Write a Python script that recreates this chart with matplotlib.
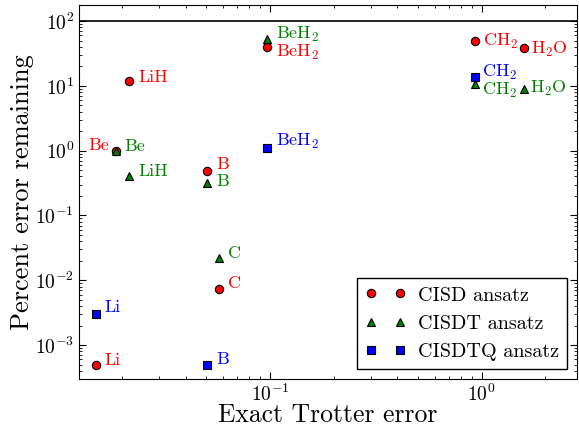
import numpy as np
import matplotlib
matplotlib.use("Agg")
import matplotlib.pyplot as plt

plt.rcParams.update({
    "font.family": "serif", "font.serif": ["cmr10"],
    "mathtext.fontset": "cm", "axes.formatter.use_mathtext": True,
    "axes.unicode_minus": False,
    "xtick.direction": "in", "ytick.direction": "in",
    "xtick.top": True, "ytick.right": True,
    "xtick.minor.visible": True, "ytick.minor.visible": True,
})

# ── data ──────────────────────────────────────────────────────────────────────
cisd_names = ["Li", "LiH", "Be", "B", "C", "BeH$_2$", "CH$_2$", "H$_2$O"]
cisd_x     = [0.0150, 0.0216, 0.0187, 0.0504, 0.0573, 0.0968, 0.93, 1.59]
cisd_y     = [5.0e-4, 11.9, 1.0, 0.49, 0.0073, 39.4, 48.9, 38.1]

cisdt_names = ["Be", "LiH", "B", "C", "BeH$_2$", "CH$_2$", "H$_2$O"]
cisdt_x     = [0.0187, 0.0216, 0.0504, 0.0573, 0.0968, 0.93, 1.59]
cisdt_y     = [0.98, 0.40, 0.32, 0.0218, 53.0, 10.7, 8.9]

cisdtq_names = ["Li", "B", "BeH$_2$", "CH$_2$"]
cisdtq_x     = [0.0150, 0.0504, 0.0968, 0.93]
cisdtq_y     = [0.00307, 4.85e-4, 1.09, 13.9]

# label offsets in pixels (dx, dy), right-aligned when dx < 0
off_cisd   = [(9, 4), (9, 4), (-7, 5), (9, 6), (9, 6), (9, -5), (8, 0), (7, -1)]
off_cisdt  = [(9, 5), (9, 5), (9, 1), (9, 5), (9, 4), (7, -6), (6, 1)]
off_cisdtq = [(9, 6), (9, 6), (9, 7), (7, 4)]

fig = plt.figure(figsize=(5.79, 4.28), dpi=100)
ax = fig.add_axes([0.1364, 0.1145, 0.8601, 0.8738])

ax.axhline(100, color="k", lw=1.2)

series = [
    (cisd_names, cisd_x, cisd_y, off_cisd, "r", "o", "CISD ansatz"),
    (cisdt_names, cisdt_x, cisdt_y, off_cisdt, "g", "^", "CISDT ansatz"),
    (cisdtq_names, cisdtq_x, cisdtq_y, off_cisdtq, "b", "s", "CISDTQ ansatz"),
]
for names, xs, ys, offs, col, mk, lab in series:
    ax.plot(xs, ys, ls="none", marker=mk, color=col, mec="k", mew=0.8, ms=6, label=lab)
    for n, x, y, (dx, dy) in zip(names, xs, ys, offs):
        ax.annotate(n, (x, y), xytext=(dx, dy), textcoords="offset pixels",
                    color=col, fontsize=13, va="center",
                    ha="right" if dx < 0 else "left")

ax.set_xscale("log")
ax.set_yscale("log")
ax.set_xlim(0.01253, 2.82)
ax.set_ylim(3.0e-4, 177)
ax.tick_params(labelsize=14)
ax.tick_params(which="major", length=5)
ax.tick_params(which="minor", length=2.5)
ax.set_xlabel("Exact Trotter error", fontsize=18.5)
ax.set_ylabel("Percent error remaining", fontsize=19)
ax.xaxis.set_label_coords(0.5, -0.066)
ax.yaxis.set_label_coords(-0.09, 0.5)

leg = ax.legend(loc="lower right", numpoints=2, fontsize=14.5, fancybox=False,
                edgecolor="k", framealpha=1, borderaxespad=0.5, handletextpad=0.6)
leg.get_frame().set_linewidth(1.0)

fig.savefig("out.png", dpi=100)
